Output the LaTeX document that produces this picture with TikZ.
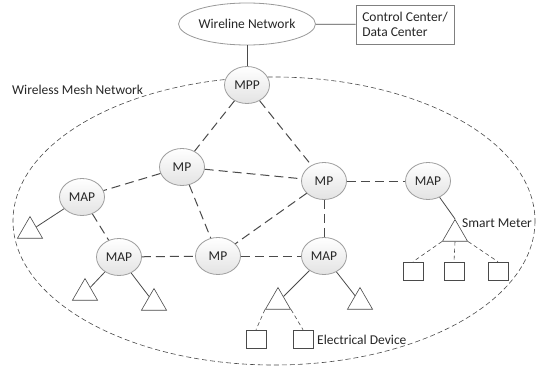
\documentclass[tikz,border=0pt]{standalone}
\usepackage{fontspec}
\setmainfont{Carlito}
\usetikzlibrary{shapes.geometric}

\definecolor{linegray}{HTML}{4A4A4A}
\definecolor{textgray}{HTML}{262626}

\tikzset{
  meshnode/.style={ellipse, draw=gray!75, top color=white, bottom color=gray!22, line width=0.8pt, minimum width=45pt, minimum height=37pt, inner sep=0pt, text=textgray, font=\fontsize{13.5}{15}\selectfont},
  meter/.style={regular polygon, regular polygon sides=3, draw=linegray, fill=white, line width=0.6pt, minimum size=29pt, inner sep=0pt},
  device/.style={rectangle, draw=linegray, fill=white, line width=0.6pt, minimum width=20pt, minimum height=18pt, inner sep=0pt},
  meshlink/.style={draw=linegray, line width=1pt, dash pattern=on 9pt off 5pt},
  wirelink/.style={draw=linegray, line width=0.8pt},
  devlink/.style={draw=linegray, line width=0.6pt, dash pattern=on 4pt off 3pt},
  label/.style={text=textgray, font=\fontsize{13.5}{15}\selectfont, inner sep=0pt}
}

\begin{document}
\begin{tikzpicture}[x=1pt, y=-1pt]

    % Frame of the picture
    \useasboundingbox (0,0) rectangle (537,367);

    % Wireless mesh boundary
    \draw[linegray, line width=0.6pt, dash pattern=on 5pt off 3pt] (274,221) ellipse [x radius=261, y radius=144];
    \node[label, anchor=west] (wmn) at (12,90) {Wireless Mesh Network};

    % Wireline side
    \node[ellipse, draw=gray!80, fill=white, line width=0.8pt, minimum width=109pt, minimum height=42pt, inner sep=0pt, text=textgray, font=\fontsize{13.5}{15}\selectfont] (wire) at (247,24) {Wireline Network};
    \node[rectangle, draw=gray, line width=1pt, fill=white, minimum width=98pt, minimum height=39pt, inner sep=0pt, text=textgray, font=\fontsize{13.5}{15}\selectfont, align=left] (ctrl) at (405,24.5) {Control Center/\\Data Center};

    % Mesh nodes
    \node[meshnode] (mpp)  at (247,85)  {MPP};
    \node[meshnode] (mp1)  at (182,167) {MP};
    \node[meshnode] (mp2)  at (218,256) {MP};
    \node[meshnode] (mp3)  at (324,181) {MP};
    \node[meshnode] (map1) at (82,197)  {MAP};
    \node[meshnode] (map2) at (119,257) {MAP};
    \node[meshnode] (map3) at (428,181) {MAP};
    \node[meshnode] (map4) at (324,256) {MAP};

    % Meters
    \node[meter] (t1) at (30,231)  {};
    \node[meter] (t2) at (85,293)  {};
    \node[meter] (t3) at (154,303) {};
    \node[meter] (t4) at (278,302) {};
    \node[meter] (t5) at (360,302) {};
    \node[meter] (t6) at (455,234) {};

    % Devices
    \node[device] (s1) at (413,271) {};
    \node[device] (s2) at (454,271) {};
    \node[device] (s3) at (498,271) {};
    \node[device] (d1) at (256,339) {};
    \node[device] (d2) at (303,339) {};

    % Labels of meter and device
    \node[label, anchor=west] (smlabel) at (462,223) {Smart Meter};
    \node[label, anchor=west] (edlabel) at (317,340) {Electrical Device};

    % Wired links
    \draw[wirelink] (wire) -- (ctrl);
    \draw[wirelink] (wire) -- (mpp);
    \draw[wirelink] (map1) -- (t1);
    \draw[wirelink] (map2) -- (t2);
    \draw[wirelink] (map2) -- (t3);
    \draw[wirelink] (map4) -- (t4);
    \draw[wirelink] (map4) -- (t5);
    \draw[wirelink] (map3) -- (t6.north);

    % Mesh links
    \draw[meshlink] (mpp) -- (mp1);
    \draw[meshlink] (mpp) -- (mp3);
    \draw[meshlink] (mp1) -- (map1);
    \draw[meshlink] (mp1) -- (mp3);
    \draw[meshlink] (mp1) -- (mp2);
    \draw[meshlink] (mp3) -- (mp2);
    \draw[meshlink] (mp3) -- (map3);
    \draw[meshlink] (mp3) -- (map4);
    \draw[meshlink] (map1) -- (map2);
    \draw[meshlink] (map2) -- (mp2);
    \draw[meshlink] (mp2) -- (map4);

    % Device links
    \draw[devlink] (t6.corner 2) -- (s1.north);
    \draw[devlink] (t6.south) -- (s2.north);
    \draw[devlink] (t6.corner 3) -- (s3.north);
    \draw[devlink] (t4.corner 2) -- (d1.north);
    \draw[devlink] (t4.corner 3) -- (d2.north);
  \end{tikzpicture}
\end{document}
